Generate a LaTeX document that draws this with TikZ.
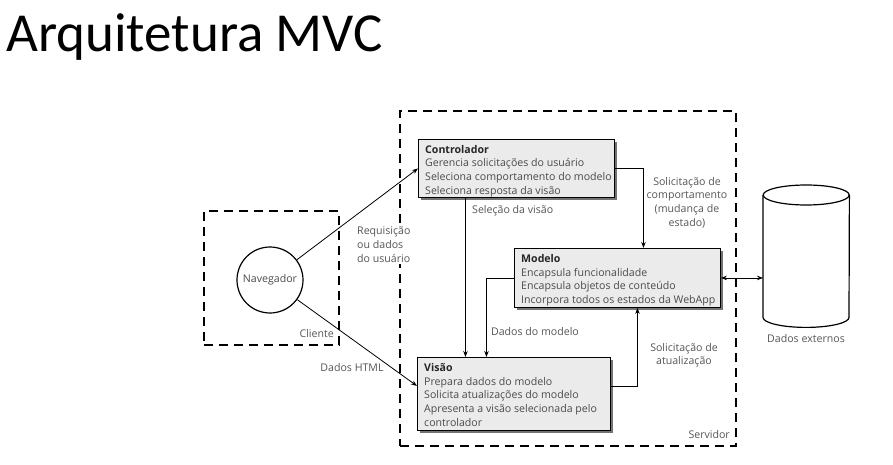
\documentclass[tikz,border=0pt]{standalone}
\usepackage{fontspec}
\setmainfont{Open Sans}
\newfontfamily\titlefont{Carlito}
\usetikzlibrary{shadows,arrows.meta}
\definecolor{boxgray}{HTML}{EBEBEB}
\definecolor{txtgray}{HTML}{4A4A4A}
\definecolor{lblgray}{HTML}{555555}
\begin{document}
\begin{tikzpicture}[x=1pt,y=-1pt,
  dashbox/.style={draw, line width=2.2pt, dash pattern=on 9pt off 6pt},
  comp/.style={draw, line width=0.9pt, fill=boxgray, inner sep=0pt, anchor=north west,
    drop shadow={shadow xshift=2.5pt, shadow yshift=-2.5pt, fill=black!55, opacity=1}},
  comptext/.style={anchor=north west, inner sep=0pt, align=left, text=txtgray,
    font=\fontsize{10.6pt}{13.6pt}\selectfont},
  lbl/.style={inner sep=0pt, text=lblgray, font=\fontsize{10.6pt}{13.6pt}\selectfont},
  arr/.style={line width=0.8pt, -{Stealth[length=6pt,width=4.5pt]}},
  darr/.style={line width=0.8pt, {Stealth[length=6pt,width=4.5pt]}-{Stealth[length=6pt,width=4.5pt]}}
]
\useasboundingbox (0,0) rectangle (893,465);
% title
\node[anchor=base west, inner sep=0pt, font=\titlefont\fontsize{55pt}{60pt}\selectfont] (title) at (6,52) {Arquitetura MVC};
% dashed containers
\node[dashbox, minimum width=135pt, minimum height=134pt, anchor=north west, inner sep=0pt] (client) at (203,210) {};
\node[dashbox, minimum width=336pt, minimum height=335pt, anchor=north west, inner sep=0pt] (server) at (399,110) {};
\node[lbl, anchor=base east] (clientlbl) at (334,337) {Cliente};
\node[lbl, anchor=base east] (serverlbl) at (730,438) {Servidor};
% browser
\node[draw, circle, line width=1.2pt, minimum size=66pt, inner sep=0pt, font=\fontsize{10.6pt}{11pt}\selectfont, text=txtgray] (nav) at (270,280) {Navegador};
% components
\node[comp, minimum width=196pt, minimum height=58pt] (ctrl) at (418,139) {};
\node[comp, minimum width=206pt, minimum height=59pt] (mod) at (514,248) {};
\node[comp, minimum width=193pt, minimum height=73pt] (vis) at (417,357) {};
\node[comptext] (ctrltxt) at (425,145) {\textbf{\color{black!85}Controlador}\\Gerencia solicitações do usuário\\Seleciona comportamento do modelo\\Seleciona resposta da visão};
\node[comptext] (modtxt) at (521,254.5) {\textbf{\color{black!85}Modelo}\\Encapsula funcionalidade\\Encapsula objetos de conteúdo\\Incorpora todos os estados da WebApp};
\node[comptext] (vistxt) at (424,363.5) {\textbf{\color{black!85}Visão}\\Prepara dados do modelo\\Solicita atualizações do modelo\\Apresenta a visão selecionada pelo\\controlador};
% database
\node[minimum width=86pt, minimum height=122pt, inner sep=0pt, anchor=north west] (db) at (763,195) {};
\draw[line width=1.2pt, fill=white] (db.north west) -- (db.south west) arc[start angle=180, end angle=360, x radius=43pt, y radius=10pt] -- (db.north east);
\draw[line width=1.2pt] (db.north) ellipse[x radius=43pt, y radius=10pt];
\node[lbl, anchor=base] (dblbl) at (806,342) {Dados externos};
% connectors
\draw[arr] (nav) -- (ctrl.west);
\draw[arr] (nav) -- ([yshift=8pt]vis.west);
\draw[arr] (ctrl.east) -| ([xshift=26pt]mod.north);
\draw[arr] ([xshift=-51pt]ctrl.south) -- ([xshift=-51pt]ctrl.south |- vis.north);
\draw[arr] (mod.west) -| ([xshift=-27.5pt]vis.north);
\draw[arr] ([yshift=7.5pt]vis.east) -| ([xshift=20pt]mod.south);
\draw[darr] (mod.east) -- (mod.east -| db.west);
% labels
\node[lbl, anchor=north west, align=left, fill=white, inner xsep=1pt, inner ysep=2pt] (reqlbl) at (356,225) {Requisição\\ou dados\\do usuário};
\node[lbl, anchor=base] (htmllbl) at (352,371) {Dados HTML};
\node[lbl, anchor=base west] (sellbl) at (472,213) {Seleção da visão};
\node[lbl, anchor=north, align=center] (comlbl) at (687,177) {Solicitação de\\comportamento\\(mudança de\\estado)};
\node[lbl, anchor=base] (dmlbl) at (535,335) {Dados do modelo};
\node[lbl, anchor=north, align=center] (atlbl) at (684,343) {Solicitação de\\atualização};
\end{tikzpicture}
\end{document}
